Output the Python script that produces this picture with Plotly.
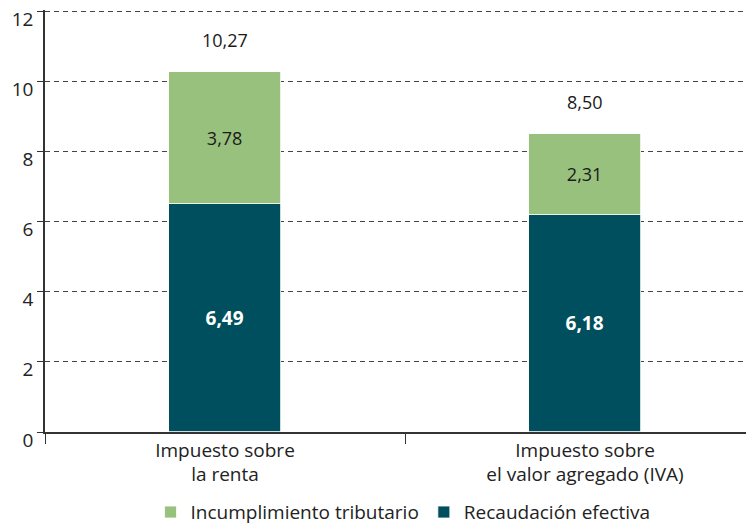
import plotly.graph_objects as go

categories = ["Impuesto sobre<br>la renta", "Impuesto sobre<br>el valor agregado (IVA)"]
recaudacion = [6.49, 6.18]
incumplimiento = [3.78, 2.31]
totales = [10.27, 8.50]
y_ticks = [0, 2, 4, 6, 8, 10, 12]

def fmt(v):
    return f"{v:.2f}".replace(".", ",")

GREEN = "#99C17E"
TEAL = "#004F5E"
FONT = "Open Sans"
FS = 19

fig = go.Figure()
fig.add_trace(go.Bar(
    x=categories, y=recaudacion, name="Recaudación efectiva",
    marker=dict(color=TEAL, line=dict(color="#ffffff", width=0.8)),
    text=[fmt(v) for v in recaudacion], textposition="inside",
    insidetextanchor="middle",
    textfont=dict(color="white", size=19, family=FONT, weight="bold"),
    width=0.311, legendrank=2,
))
fig.add_trace(go.Bar(
    x=categories, y=incumplimiento, name="Incumplimiento tributario",
    marker=dict(color=GREEN, line=dict(color="#ffffff", width=0.8)),
    text=[fmt(v) for v in incumplimiento], textposition="inside",
    insidetextanchor="middle",
    textfont=dict(color="#1a1a1a", size=18, family=FONT),
    width=0.311, legendrank=1,
))

for c, t in zip(categories, totales):
    fig.add_annotation(x=c, y=t, text=fmt(t), showarrow=False, yshift=32,
                       font=dict(size=18, color="#1a1a1a", family=FONT))

fig.update_layout(
    width=746, height=517,
    barmode="stack",
    plot_bgcolor="white", paper_bgcolor="white",
    margin=dict(l=37, r=0, t=2, b=93, autoexpand=False),
    font=dict(family=FONT, size=FS, color="#222222"),
    showlegend=True,
    legend=dict(orientation="h", x=0.505, xanchor="center", y=-0.19, yanchor="middle",
                font=dict(size=FS, color="#222222"), traceorder="normal",
                itemwidth=30),
    bargap=0,
)
fig.update_xaxes(
    range=[-0.5, 1.4694], showline=True, linecolor="#333333", linewidth=1.5,
    ticks="outside", tickson="boundaries", ticklen=10, tickcolor="#333333",
    showgrid=False, tickfont=dict(size=FS, color="#222222"), automargin=False,
)
fig.update_yaxes(
    range=[0, 12.03], tickvals=y_ticks, ticktext=[str(v) for v in y_ticks],
    showline=True, linecolor="#333333", linewidth=1.5,
    ticks="outside", ticklen=6, tickcolor="#333333",
    showgrid=True, gridcolor="#444444", gridwidth=1, griddash="5px,4px",
    zeroline=False, tickfont=dict(size=FS, color="#222222"), automargin=False,
    ticklabeloverflow="allow", ticklabelshift=8,
)

fig.write_html("out.html")
